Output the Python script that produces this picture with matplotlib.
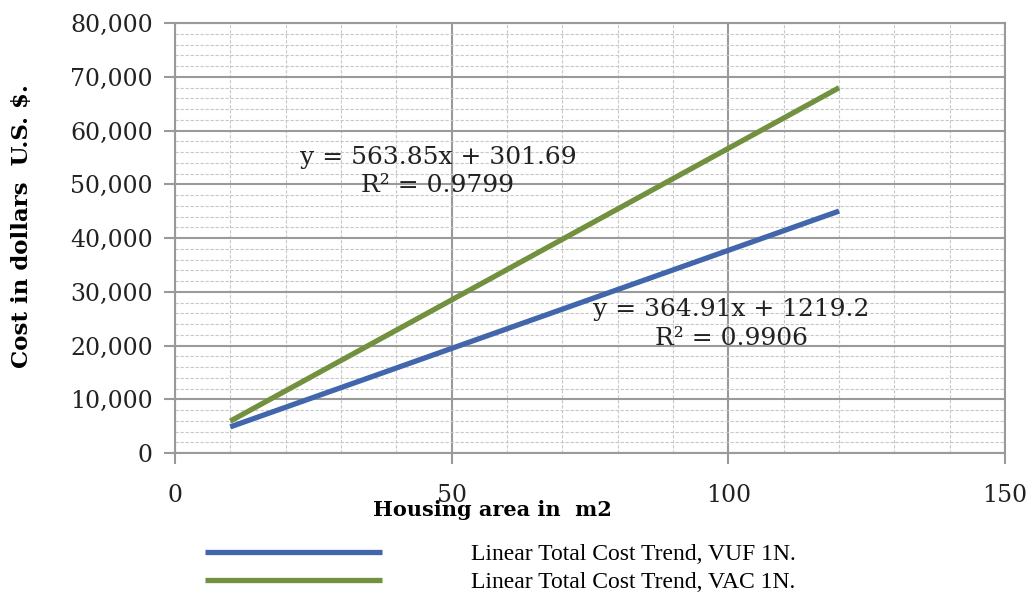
import matplotlib
matplotlib.use("Agg")
import matplotlib.pyplot as plt
from matplotlib.ticker import MultipleLocator, FuncFormatter

# trend line end points (m2 -> US $)
area = [10, 120]
cost_vuf = [4870, 45010]
cost_vac = [5940, 67960]

eq_vuf = "y = 364.91x + 1219.2\nR² = 0.9906"
eq_vac = "y = 563.85x + 301.69\nR² = 0.9799"
lab_vuf = "Linear Total Cost Trend, VUF 1N."
lab_vac = "Linear Total Cost Trend, VAC 1N."

blue = '#4166AC'
green = '#71913F'
gcol = '#9a9a9a'

fig = plt.figure(figsize=(10.33, 5.99), dpi=100)
ax = fig.add_axes([0.1694, 0.2437, 0.8036, 0.7179])

l1, = ax.plot(area, cost_vuf, color=blue, lw=3.8, solid_capstyle='butt', label=lab_vuf)
l2, = ax.plot(area, cost_vac, color=green, lw=3.8, solid_capstyle='butt', label=lab_vac)

ax.set_xlim(0, 150)
ax.set_ylim(0, 80000)
ax.xaxis.set_major_locator(MultipleLocator(50))
ax.xaxis.set_minor_locator(MultipleLocator(10))
ax.yaxis.set_major_locator(MultipleLocator(10000))
ax.yaxis.set_minor_locator(MultipleLocator(2000))
ax.yaxis.set_major_formatter(FuncFormatter(lambda v, p: f"{int(v):,}"))

ax.grid(which='minor', color='#c8c8c8', lw=0.8, ls=(0, (3, 1.5)))
ax.grid(which='major', color=gcol, lw=1.5, ls='-')
ax.set_axisbelow(True)
for s in ax.spines.values():
    s.set_color(gcol)
    s.set_linewidth(1.5)

ax.tick_params(which='major', direction='out', length=8, width=1.5, color=gcol,
               labelsize=17, pad=8)
ax.tick_params(axis='x', which='major', pad=14)
ax.tick_params(which='minor', length=0)
for t in ax.get_xticklabels() + ax.get_yticklabels():
    t.set_family('DejaVu Serif')
    t.set_color('#222222')

ax.set_xlabel('Housing area in  m2', family='DejaVu Serif', fontweight='bold',
              fontsize=15, va='center')
ax.xaxis.set_label_coords(0.383, -0.132)
ax.set_ylabel('Cost in dollars  U.S. $.', family='DejaVu Serif', fontweight='bold',
              fontsize=16.5, va='center')
ax.yaxis.set_label_coords(-0.184, 0.528)

ax.text(47.5, 52400, eq_vac, ha='center', va='center', fontsize=18,
        family='DejaVu Serif', color='#222222', linespacing=1.3)
ax.text(100.5, 24000, eq_vuf, ha='center', va='center', fontsize=18,
        family='DejaVu Serif', color='#222222', linespacing=1.3)

fig.legend(handles=[l1, l2], loc='upper left', bbox_to_anchor=(0.198, 0.092),
           frameon=False, prop={'family': 'Liberation Serif', 'size': 17},
           handlelength=7.5, handletextpad=3.8, labelspacing=0.25,
           borderaxespad=0, borderpad=0)

fig.savefig('out.png', dpi=100)
